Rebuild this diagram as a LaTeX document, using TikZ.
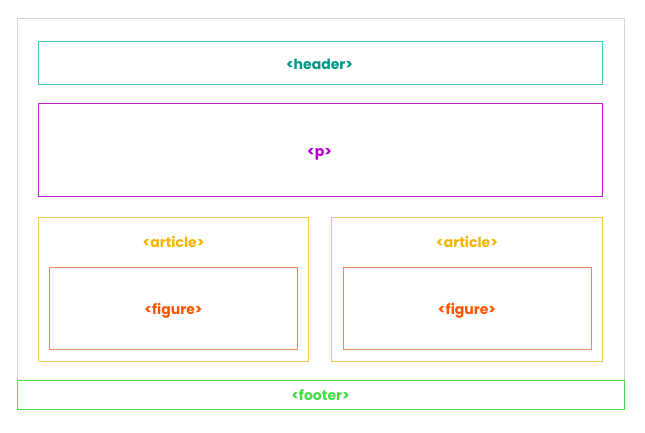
\documentclass[tikz,border=0pt]{standalone}
\usepackage{fontspec}
\setmainfont{Poppins}
\definecolor{outerc}{HTML}{D4D4D4}
\definecolor{headb}{HTML}{4DC0B4}
\definecolor{headt}{HTML}{009688}
\definecolor{pb}{HTML}{C020D0}
\definecolor{pt}{HTML}{B000C8}
\definecolor{artb}{HTML}{F8C850}
\definecolor{artt}{HTML}{F5B400}
\definecolor{figb}{HTML}{EE8860}
\definecolor{figt}{HTML}{FF5500}
\definecolor{footb}{HTML}{4ADF4A}
\definecolor{foott}{HTML}{44DD44}
\tikzset{
  box/.style={draw=#1, line width=1pt},
  lbl/.style={font=\bfseries\fontsize{14}{16}\selectfont, text=#1, inner sep=0pt, anchor=base},
}
\begin{document}
\begin{tikzpicture}[x=1pt,y=-1pt]
\useasboundingbox (0,0) rectangle (645,432);
\fill[white] (0,0) rectangle (645,432);
\draw[box=outerc] (17.5,18.5) rectangle (624,380);
\draw[box=headb] (38,41) rectangle (602.5,84);
\node[lbl=headt] (header) at (319.5,69.5) {<header>};
\draw[box=pb] (38,103.5) rectangle (602.5,196);
\node[lbl=pt] (p) at (319.5,156.5) {<p>};
\draw[box=artb] (38,217.5) rectangle (308.5,361);
\node[lbl=artt] (art1) at (173.5,247.5) {<article>};
\draw[box=artb] (331.5,217.5) rectangle (602.5,361);
\node[lbl=artt] (art2) at (467,247.5) {<article>};
\draw[box=figb] (49.5,267.5) rectangle (297.5,349);
\node[lbl=figt] (fig1) at (173.5,314) {<figure>};
\draw[box=figb] (343.5,267.5) rectangle (591,349);
\node[lbl=figt] (fig2) at (467,314) {<figure>};
\draw[box=footb] (17.5,380.5) rectangle (624,409);
\node[lbl=foott] (footer) at (320.5,400.5) {<footer>};
\end{tikzpicture}
\end{document}
